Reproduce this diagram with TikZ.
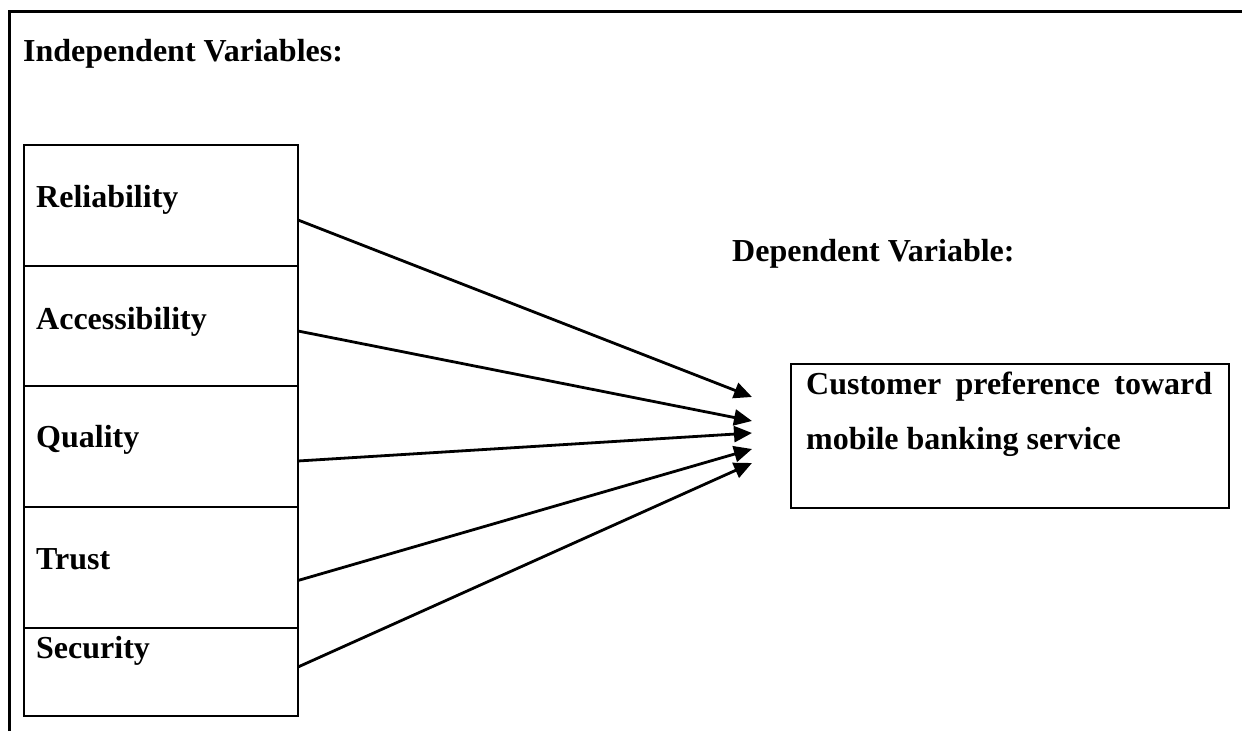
\documentclass[tikz,border=0pt]{standalone}
\usepackage{fontspec}
\setmainfont{Liberation Serif}
\usetikzlibrary{arrows.meta,positioning}

\begin{document}
\begin{tikzpicture}[x=1pt, y=1pt,
    cell/.style={rectangle, draw, line width=2.8pt, minimum width=274pt, outer sep=0pt, inner sep=0pt},
    lbl/.style={anchor=base west, inner sep=0pt, font=\fontsize{32}{55}\selectfont\bfseries},
    link/.style={-{Triangle[length=18pt, width=16pt]}, line width=2.8pt}]
    \useasboundingbox (0,0) rectangle (1242,731);
    % frame
    \draw[line width=3pt] (9,0) -- (9,719) -- (1242,719);

    \node (indep) [lbl] at (23,669) {Independent Variables:};
    \node (dep) [lbl] at (732,469) {Dependent Variable:};

    % left column
    \node (rel) [cell, minimum height=121pt, anchor=north west] at (24,586) {};
    \node (acc) [cell, minimum height=120pt, below=0pt of rel] {};
    \node (qual) [cell, minimum height=121pt, below=0pt of acc] {};
    \node (trust) [cell, minimum height=121pt, below=0pt of qual] {};
    \node (sec) [cell, minimum height=88pt, below=0pt of trust] {};

    \node (rellbl) [lbl] at (36,523) {Reliability};
    \node (acclbl) [lbl] at (36,401) {Accessibility};
    \node (quallbl) [lbl] at (36,283) {Quality};
    \node (trustlbl) [lbl] at (36,161) {Trust};
    \node (seclbl) [lbl] at (36,73) {Security};

    % right box
    \node (dv) [cell, minimum width=438pt, minimum height=144pt, anchor=north west] at (791,367) {};
    \node (dvlbl) [lbl, text width=406pt, align=justify] at (806,336) {Customer preference toward mobile banking service};

    \draw[link] ([yshift=-14.5pt]rel.east) -- ([shift={(-39pt,39pt)}]dv.west);
    \draw[link] ([yshift=-5pt]acc.east) -- ([shift={(-39pt,15pt)}]dv.west);
    \draw[link] ([yshift=-14.5pt]qual.east) -- ([shift={(-39pt,3pt)}]dv.west);
    \draw[link] ([yshift=-13pt]trust.east) -- ([shift={(-39pt,-13pt)}]dv.west);
    \draw[link] ([yshift=5pt]sec.east) -- ([shift={(-39pt,-27pt)}]dv.west);
\end{tikzpicture}
\end{document}
